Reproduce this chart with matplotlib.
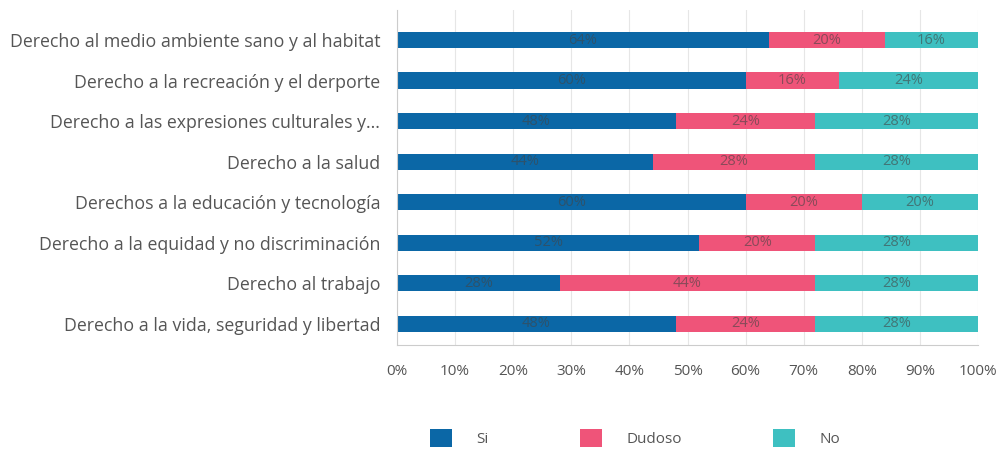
import matplotlib.pyplot as plt
from matplotlib.patches import Patch

plt.rcParams['font.family'] = ['Open Sans', 'DejaVu Sans']

categorias = [
    'Derecho al medio ambiente sano y al habitat',
    'Derecho a la recreación y el derporte',
    'Derecho a las expresiones culturales y...',
    'Derecho a la salud',
    'Derechos a la educación y tecnología',
    'Derecho a la equidad y no discriminación',
    'Derecho al trabajo',
    'Derecho a la vida, seguridad y libertad',
]
si = [64, 60, 48, 44, 60, 52, 28, 48]
dudoso = [20, 16, 24, 28, 20, 20, 44, 24]
no = [16, 24, 28, 28, 20, 28, 28, 28]
ticks = [0, 10, 20, 30, 40, 50, 60, 70, 80, 90, 100]

colores = ['#0b67a6', '#ef5479', '#3ec0c1']
series = [('Si', si), ('Dudoso', dudoso), ('No', no)]

fig = plt.figure(figsize=(10.05, 4.55), dpi=100)
ax = fig.add_axes([397 / 1005, 1 - 345 / 455, 581 / 1005, 335 / 455])

y = list(range(len(categorias)))
left = [0] * len(categorias)
for (nombre, vals), c in zip(series, colores):
    ax.barh(y, vals, left=left, height=0.4, color=c, label=nombre, zorder=2)
    for i, v in enumerate(vals):
        ax.text(left[i] + v / 2, i, f'{v}%', ha='center', va='center',
                fontsize=10.5, color='#444444', alpha=0.6, zorder=3)
    left = [l + v for l, v in zip(left, vals)]

ax.set_ylim(7.52, -0.74)
ax.set_xlim(0, 100)
ax.set_yticks(y)
ax.set_yticklabels(categorias, fontsize=12.8, color='#555555')
ax.set_xticks(ticks)
ax.set_xticklabels([f'{t}%' for t in ticks], fontsize=11, color='#555555')
ax.tick_params(length=0, pad=14)
ax.tick_params(axis='y', pad=12)
ax.grid(axis='x', color='#e6e6e6', linewidth=0.8, zorder=0)
for s in ['top', 'right']:
    ax.spines[s].set_visible(False)
ax.spines['left'].set_color('#cccccc')
ax.spines['bottom'].set_color('#cccccc')

handles = [Patch(facecolor=c, label=n) for (n, _), c in zip(series, colores)]
fig.legend(handles=handles, loc='center', bbox_to_anchor=(0.632, 0.037), ncol=3,
           frameon=False, handlelength=1.4, handleheight=1.4, columnspacing=6,
           handletextpad=1.6, prop={'size': 11})
for t in fig.legends[0].get_texts():
    t.set_color('#555555')

fig.savefig('out.png', dpi=100)
